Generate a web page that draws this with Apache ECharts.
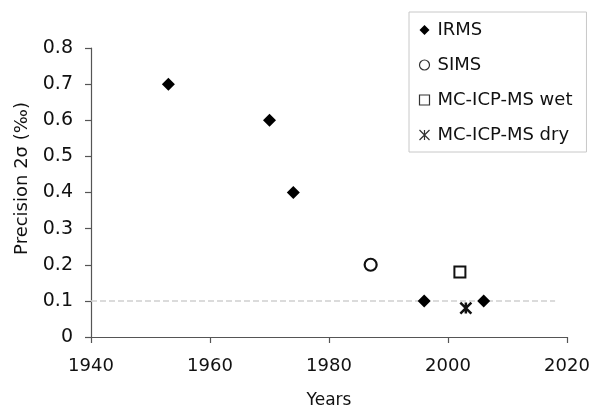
<!DOCTYPE html>
<html>
<head>
<meta charset="utf-8">
<script src="https://cdn.jsdelivr.net/npm/echarts@6/dist/echarts.min.js"></script>
<style>html,body{margin:0;padding:0;background:#fff}#c{width:591px;height:409px}</style>
</head>
<body>
<div id="c"></div>
<script>
const seriesNames = ['IRMS', 'SIMS', 'MC-ICP-MS wet', 'MC-ICP-MS dry'];
const irmsYears = [1953, 1970, 1974, 1996, 2006];
const irmsValues = [0.7, 0.6, 0.4, 0.1, 0.1];
const simsYears = [1987];
const simsValues = [0.2];
const wetYears = [2002];
const wetValues = [0.18];
const dryYears = [2003];
const dryValues = [0.08];
const refLineYears = [1940, 2018];
const refLineValue = 0.1;
const xTicks = [1940, 1960, 1980, 2000, 2020];
const yTicks = [0, 0.1, 0.2, 0.3, 0.4, 0.5, 0.6, 0.7, 0.8];

const FONT = 'DejaVu Sans';
const starPath = 'path://M0,0L10,10M10,0L0,10M5,0L5,10';
const pair = (xs, ys) => xs.map((x, i) => [x, ys[i]]);

const chart = echarts.init(document.getElementById('c'), null, {renderer: 'canvas'});
chart.setOption({
  animation: false,
  backgroundColor: '#fff',
  textStyle: {fontFamily: FONT},
  grid: {left: 91, right: 24, top: 48, bottom: 72, containLabel: false, outerBoundsMode: 'none'},
  legend: {
    orient: 'vertical',
    left: 409, top: 12,
    padding: [9, 14, 8, 8],
    borderColor: '#c8c8c8', borderWidth: 1,
    itemWidth: 10, itemHeight: 10, itemGap: 17,
    textStyle: {fontFamily: FONT, fontSize: 18, color: '#111', lineHeight: 18, padding: [0, 0, 0, 3]},
    data: [
      {name: seriesNames[0], icon: 'diamond', itemStyle: {color: '#000', borderWidth: 0}},
      {name: seriesNames[1], icon: 'circle', itemStyle: {color: '#fff', borderColor: '#333', borderWidth: 1.2}},
      {name: seriesNames[2], icon: 'rect', itemStyle: {color: '#fff', borderColor: '#333', borderWidth: 1.2}},
      {name: seriesNames[3], icon: starPath, itemStyle: {color: 'none', borderColor: '#333', borderWidth: 1.2}}
    ]
  },
  xAxis: {
    type: 'value', min: 1940, max: 2020, interval: 20,
    name: 'Years', nameLocation: 'middle', nameGap: 55,
    nameTextStyle: {fontFamily: FONT, fontSize: 17, color: '#111'},
    axisLine: {show: true, lineStyle: {color: '#555', width: 1.2}},
    axisTick: {show: true, length: 6, lineStyle: {color: '#555', width: 1.2}},
    axisLabel: {fontFamily: FONT, fontSize: 18, color: '#111', margin: 20,
      formatter: v => xTicks.includes(v) ? String(v) : ''},
    splitLine: {show: false}
  },
  yAxis: {
    type: 'value', min: 0, max: 0.8, interval: 0.1,
    name: 'Precision 2σ (‰)', nameLocation: 'middle', nameGap: 60,
    nameTextStyle: {fontFamily: FONT, fontSize: 18, color: '#111', padding: [0, 0, 0, 28]},
    axisLine: {show: true, lineStyle: {color: '#555', width: 1.2}},
    axisTick: {show: true, length: 6, lineStyle: {color: '#555', width: 1.2}},
    axisLabel: {fontFamily: FONT, fontSize: 19, color: '#111', margin: 18,
      formatter: v => { const t = yTicks.find(y => Math.abs(y - v) < 1e-9); return t === undefined ? '' : (t === 0 ? '0' : t.toFixed(1)); }},
    splitLine: {show: false}
  },
  series: [
    {
      name: 'ref', type: 'line', z: 1,
      data: refLineYears.map(x => [x, refLineValue]),
      symbol: 'none', silent: true,
      lineStyle: {color: '#cfcfcf', width: 1.5, type: [6, 3]}
    },
    {
      name: seriesNames[0], type: 'scatter', z: 3,
      data: pair(irmsYears, irmsValues),
      symbol: 'diamond', symbolSize: 13,
      itemStyle: {color: '#000', opacity: 1}
    },
    {
      name: seriesNames[1], type: 'scatter', z: 3,
      data: pair(simsYears, simsValues),
      symbol: 'circle', symbolSize: 12,
      itemStyle: {color: '#fff', borderColor: '#111', borderWidth: 2.2, opacity: 1}
    },
    {
      name: seriesNames[2], type: 'scatter', z: 3,
      data: pair(wetYears, wetValues),
      symbol: 'rect', symbolSize: 11,
      itemStyle: {color: '#fff', borderColor: '#111', borderWidth: 2, opacity: 1}
    },
    {
      name: seriesNames[3], type: 'scatter', z: 3,
      data: pair(dryYears, dryValues),
      symbol: starPath, symbolSize: 11,
      itemStyle: {color: 'none', borderColor: '#111', borderWidth: 2.5, opacity: 1}
    }
  ]
});
</script>
</body>
</html>
